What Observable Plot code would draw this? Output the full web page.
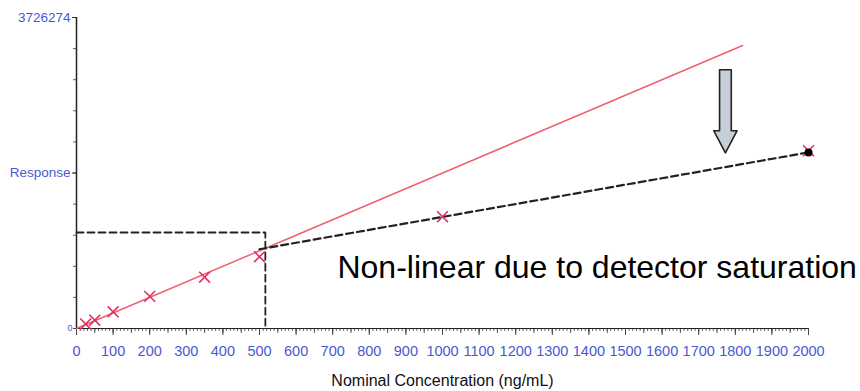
<!DOCTYPE html>
<html>
<head>
<meta charset="utf-8">
<script src="https://cdn.jsdelivr.net/npm/d3@7"></script>
<script src="https://cdn.jsdelivr.net/npm/@observablehq/plot@0.6"></script>
<style>
  html, body { margin: 0; padding: 0; background: #fff; }
  #chart svg { display: block; }
</style>
</head>
<body>
<div id="chart"></div>
<script>
// ---- data ----
const concentrations = [25, 50, 100, 200, 350, 500, 1000, 2000];           // ng/mL
const responses      = [55000, 100000, 200000, 385000, 615000, 860000, 1340000, 2130000];
const yMax = 3726274;
const yTickValues = [0, 1863137, 3726274];
const yTickLabels = ["0", "Response", "3726274"];
const xTickValues = d3.range(0, 2001, 100);

// linear calibration fit (red) over its drawn range
const fitSlope = 1863;      // response per ng/mL
const fitIntercept = 0;
const fitRange = [0, 1820];

// saturated (non-linear) segment, black dashed
const satX = [500, 2000];
const satY = [950000, 2110000];

// dashed guide box at the top of the linear range
const boxX = [0, 516, 516];
const boxY = [1150000, 1150000, 0];

// annotation
const noteText = "Non-linear due to detector saturation";
const noteX = 713, noteY = 725000;

// block arrow (center x, top, neck, tip, half widths in ng/mL)
const arrowCx = 1773, arrowTop = 3100000, arrowNeck = 2370000, arrowTip = 2105000;
const arrowShaftHalf = 16, arrowHeadHalf = 32;

// ---- derived tables ----
const points = concentrations.map((c, i) => ({x: c, y: responses[i]}));
const fitLine = fitRange.map(x => ({x, y: fitIntercept + fitSlope * x}));
const satLine = satX.map((x, i) => ({x, y: satY[i]}));
const box = boxX.map((x, i) => ({x, y: boxY[i]}));
const arrow = [
  {x: arrowCx - arrowShaftHalf, y: arrowTop},
  {x: arrowCx + arrowShaftHalf, y: arrowTop},
  {x: arrowCx + arrowShaftHalf, y: arrowNeck},
  {x: arrowCx + arrowHeadHalf, y: arrowNeck},
  {x: arrowCx, y: arrowTip},
  {x: arrowCx - arrowHeadHalf, y: arrowNeck},
  {x: arrowCx - arrowShaftHalf, y: arrowNeck},
  {x: arrowCx - arrowShaftHalf, y: arrowTop}
];

const blue = "#4a58d0";
const font = "'Liberation Sans', Arial, sans-serif";

const chart = Plot.plot({
  width: 860,
  height: 391,
  marginLeft: 76,
  marginRight: 52,
  marginTop: 17,
  marginBottom: 63,
  style: {fontFamily: font, background: "#fff"},
  x: {domain: [0, 2000]},
  y: {domain: [0, yMax]},
  marks: [
    // x axis: minor / mid / major ticks
    Plot.axisX({ticks: d3.range(0, 2001, 10), tickSize: 3, stroke: "#666", text: null, label: null}),
    Plot.axisX({ticks: d3.range(0, 2001, 50), tickSize: 5, stroke: "#555", text: null, label: null}),
    Plot.axisX({ticks: xTickValues, tickSize: 7, stroke: "#444", tickPadding: 10, fill: blue, fontSize: 14.5, label: null, tickFormat: d => String(d)}),
    Plot.axisX({ticks: [], label: "Nominal Concentration (ng/mL)", labelAnchor: "center", labelArrow: "none", labelOffset: 57, fill: "#111", fontSize: 16}),
    // y axis
    Plot.axisY({ticks: d3.range(0, 11).map(i => i * yMax / 10), tickSize: 3, stroke: "#666", text: null, label: null}),
    Plot.axisY({ticks: yTickValues.slice(1), tickSize: 4, stroke: "#333", tickPadding: 2, fill: blue, fontSize: 13.5, label: null,
      tickFormat: d => yTickLabels[yTickValues.indexOf(d)]}),
    Plot.axisY({ticks: [0], tickSize: 2, stroke: "#333", tickPadding: 2, fill: blue, fontSize: 9, label: null, tickFormat: () => yTickLabels[0]}),
    Plot.ruleY([0], {stroke: "#222", strokeWidth: 1}),
    Plot.ruleX([0], {stroke: "#222", strokeWidth: 1.5}),
    // dashed guide box
    Plot.line(box, {x: "x", y: "y", stroke: "#222", strokeWidth: 1.8, strokeDasharray: "7,4"}),
    // linear fit
    Plot.line(fitLine, {x: "x", y: "y", stroke: "#f06070", strokeWidth: 1.5}),
    // saturated segment
    Plot.line(satLine, {x: "x", y: "y", stroke: "#222", strokeWidth: 2.2, strokeDasharray: "7,4"}),
    // calibration points
    Plot.dot(points, {x: "x", y: "y", symbol: "times", r: 5, stroke: "#e2305f", strokeWidth: 1.6}),
    Plot.dot([satLine[satLine.length - 1]], {x: "x", y: "y", r: 4, fill: "#000"}),
    // block arrow
    Plot.line(arrow, {x: "x", y: "y", fill: "#c6cfd7", stroke: "#222", strokeWidth: 1.6}),
    // annotation
    Plot.text([noteText], {x: () => noteX, y: () => noteY, text: d => d, textAnchor: "start", fontSize: 32, fill: "#000", fontFamily: font})
  ]
});
document.getElementById("chart").appendChild(chart);
</script>
</body>
</html>
